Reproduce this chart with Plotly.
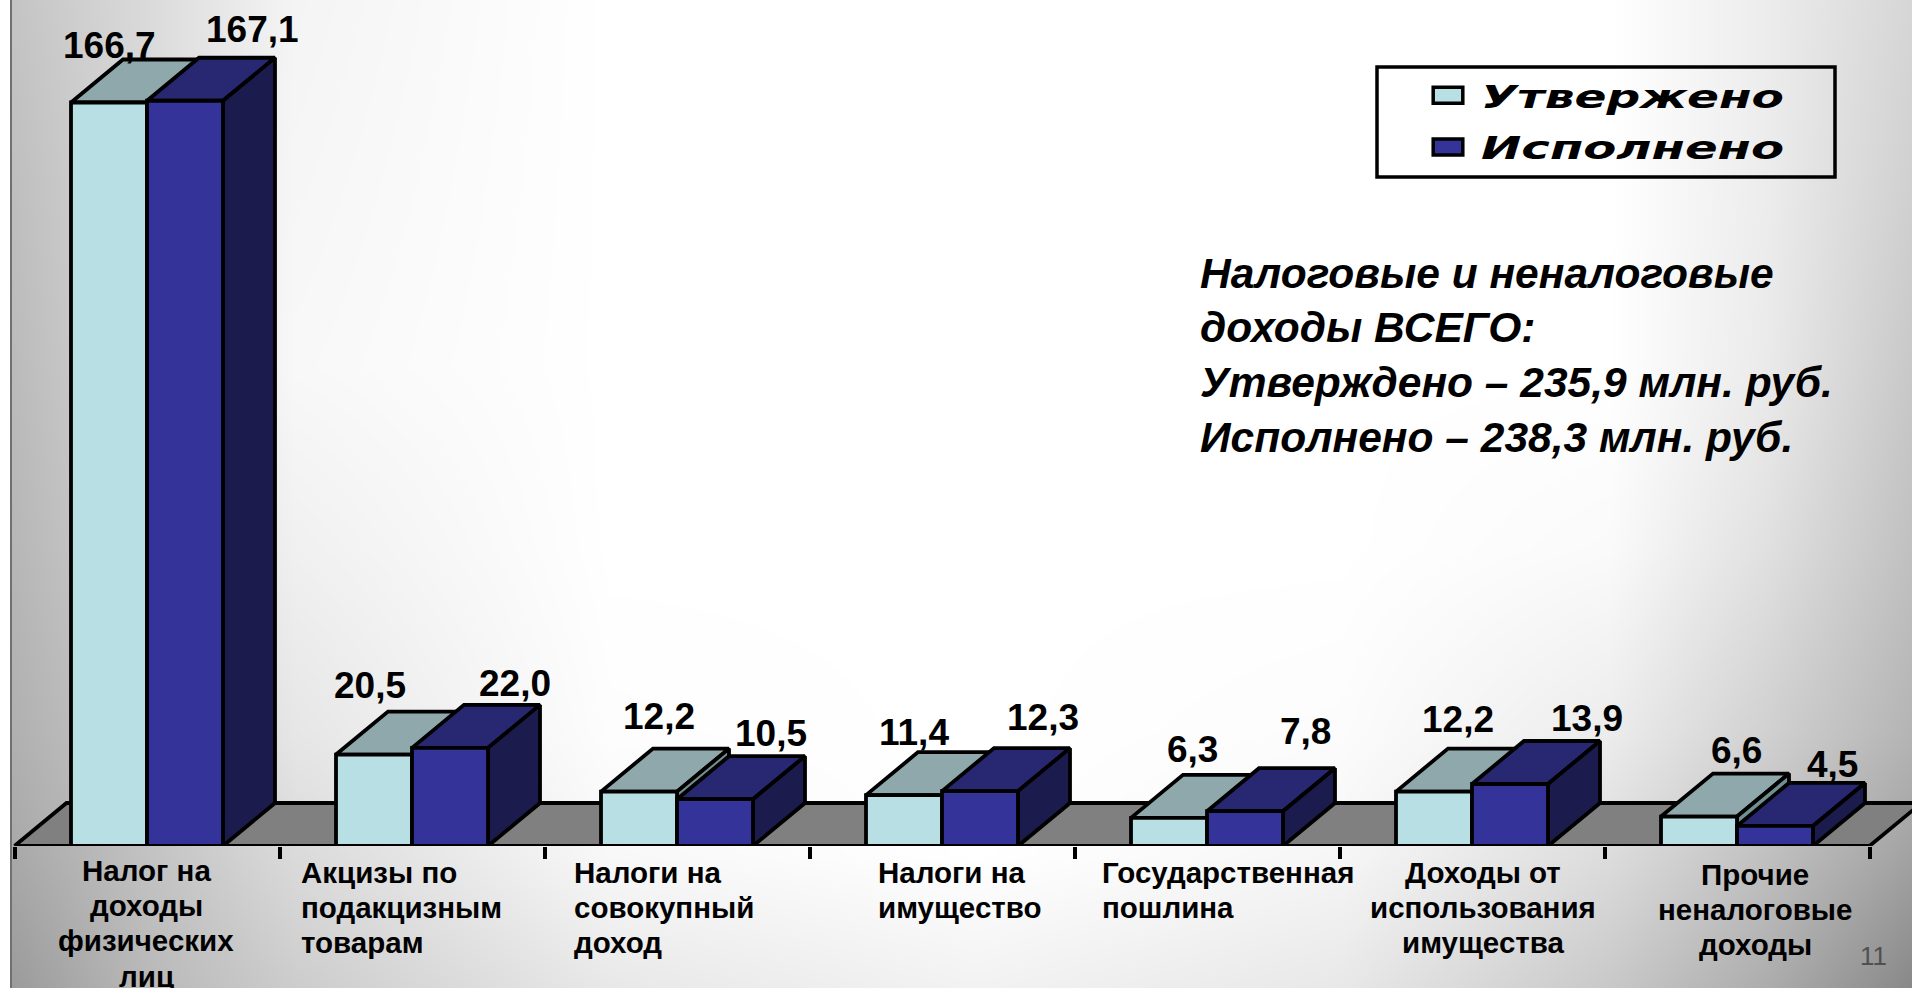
import plotly.graph_objects as go

# ---------- data ----------
categories = ["Налог на<br>доходы<br>физических<br>лиц", "Акцизы по<br>подакцизным<br>товарам",
              "Налоги на<br>совокупный<br>доход", "Налоги на<br>имущество",
              "Государственная<br>пошлина", "Доходы от<br>использования<br>имущества",
              "Прочие<br>неналоговые<br>доходы"]
approved = [166.7, 20.5, 12.2, 11.4, 6.3, 12.2, 6.6]
executed = [167.1, 22.0, 10.5, 12.3, 7.8, 13.9, 4.5]
series_names = ["Утвержено", "Исполнено"]
note_lines = ["Налоговые и неналоговые", "доходы ВСЕГО:",
              "Утверждено – 235,9 млн. руб.", "Исполнено – 238,3 млн. руб."]

# ---------- style / layout ----------
W, H = 1912, 988
base_px, px_per_unit = 846, 4.46
cat_px, first_px = 265, 147
depth_x, depth_y = 52 / cat_px, 43 / px_per_unit
bw = 76 / cat_px
LW = 3.8
LIGHT = ("#B8E0E4", "#8FA8AB", "#6F8F92")
NAVY = ("#333399", "#272772", "#1B1B4E")

label_dx = [[0, -4, 20, 10, 23, 24, 37], [67, 65, 56, 63, 60, 77, 57]]
label_dy = [[14, 26, 32, 20, 25, 29, 23], [28, 21, 23, 31, 37, 23, 18]]
cat_anchor = ["center", "left", "left", "left", "left", "center", "center"]
cat_dx = [-1, -113, -105, -66, -107, 11, 18]
cat_first_line = [870, 872, 872, 872, 872, 872, 874]
cat_pitch = 35.4

bg_x = [0, 146, 293, 610, 976, 1341, 1610, 1768, 1912]
bg_y = [0, 183, 366, 549, 732, 854, 988]
bg_gray = [
    [0xC2, 0xDA, 0xF4, 0xFF, 0xFF, 0xFF, 0xFF, 0xEC, 0xD6],
    [0xBC, 0xD8, 0xF6, 0xFF, 0xFF, 0xFF, 0xFF, 0xEC, 0xD0],
    [0xB8, 0xD6, 0xF8, 0xFF, 0xFF, 0xFF, 0xFF, 0xEA, 0xC8],
    [0xB4, 0xD0, 0xF0, 0xFF, 0xFF, 0xFF, 0xFA, 0xE0, 0xC0],
    [0xAE, 0xC8, 0xE6, 0xFD, 0xFF, 0xFC, 0xEC, 0xD0, 0xB4],
    [0xA6, 0xC2, 0xDA, 0xF8, 0xFF, 0xF6, 0xDC, 0xC0, 0xA2],
    [0x98, 0xB8, 0xCC, 0xE8, 0xF2, 0xE8, 0xC8, 0xAC, 0x88],
]

fig = go.Figure()
fig.add_trace(go.Heatmap(x=bg_x, y=bg_y, z=bg_gray, zmin=0, zmax=255, zsmooth="best",
                         colorscale=[[0, "#000000"], [1, "#FFFFFF"]], showscale=False,
                         hoverinfo="skip", xaxis="x", yaxis="y"))


def poly(xs, ys, fill):
    fig.add_trace(go.Scatter(x=xs, y=ys, mode="lines", fill="toself", fillcolor=fill,
                             line=dict(color="black", width=LW), hoverinfo="skip",
                             showlegend=False, xaxis="x2", yaxis="y2"))


n = len(categories)
poly([-0.5, n - 0.5, n - 0.5 + depth_x, -0.5 + depth_x, -0.5], [0, 0, depth_y, depth_y, 0], "#808080")


def draw_series(values, offset, colors):
    fx, fy, tx, ty, sx, sy = [], [], [], [], [], []
    for i, v in enumerate(values):
        x0, x1 = i + offset, i + offset + bw
        fx += [x0, x1, x1, x0, x0, None]
        fy += [0, 0, v, v, 0, None]
        tx += [x0, x1, x1 + depth_x, x0 + depth_x, x0, None]
        ty += [v, v, v + depth_y, v + depth_y, v, None]
        sx += [x1, x1 + depth_x, x1 + depth_x, x1, x1, None]
        sy += [0, depth_y, v + depth_y, v, 0, None]
    poly(tx, ty, colors[1])
    poly(sx, sy, colors[2])
    poly(fx, fy, colors[0])


draw_series(approved, -bw, LIGHT)
draw_series(executed, 0, NAVY)

# legend-only entries
for name, col in zip(series_names, (LIGHT[0], NAVY[0])):
    fig.add_trace(go.Scatter(x=[None], y=[None], mode="markers", name=name, legendgroup=name,
                             xaxis="x2", yaxis="y2",
                             marker=dict(symbol="square", size=17, color=col,
                                         line=dict(color="black", width=3.5))))

ann = []
for s, vals in enumerate((approved, executed)):
    for i, v in enumerate(vals):
        ann.append(dict(x=i + (-bw / 2 if s == 0 else bw / 2), y=v + depth_y, xref="x2", yref="y2",
                        text=f"{v:.1f}".replace(".", ","), showarrow=False, xanchor="center", yanchor="middle",
                        xshift=label_dx[s][i], yshift=label_dy[s][i],
                        font=dict(family="Liberation Sans", size=37, color="black", weight="bold")))
for i, c in enumerate(categories):
    for k, line in enumerate(c.split("<br>")):
        ann.append(dict(x=i, y=1 - (cat_first_line[i] + k * cat_pitch) / H, xref="x2", yref="paper",
                        text=line, showarrow=False, xanchor=cat_anchor[i], yanchor="middle", xshift=cat_dx[i],
                        font=dict(family="Liberation Sans", size=29.5, color="black", weight="bold")))
for line, ypx in zip(note_lines, (273, 327, 382, 437)):
    ann.append(dict(x=1198 / W, y=1 - ypx / H, xref="paper", yref="paper", text=line, showarrow=False,
                    xanchor="left", yanchor="middle",
                    font=dict(family="Liberation Sans", size=42.5, color="black", weight="bold", style="italic")))
ann.append(dict(x=1873 / W, y=1 - 956 / H, xref="paper", yref="paper", text="11", showarrow=False,
                xanchor="center", yanchor="middle",
                font=dict(family="Liberation Sans", size=26, color="#505050")))

fig.update_layout(
    width=W, height=H,
    margin=dict(l=0, r=0, t=0, b=0),
    paper_bgcolor="white", plot_bgcolor="rgba(0,0,0,0)",
    xaxis=dict(domain=[0, 1], range=[0, W], visible=False, fixedrange=True),
    yaxis=dict(domain=[0, 1], range=[H, 0], visible=False, fixedrange=True),
    xaxis2=dict(domain=[0, 1], anchor="y2", range=[-first_px / cat_px, (W - first_px) / cat_px],
                tickmode="array", tickvals=[i - 0.5 for i in range(n + 1)], ticktext=[""] * (n + 1),
                ticks="outside", ticklen=12, tickwidth=3.5, tickcolor="black",
                showgrid=False, zeroline=False, showline=False),
    yaxis2=dict(domain=[(H - base_px) / H, 1], anchor="x2", range=[0, base_px / px_per_unit],
                visible=False),
    legend=dict(x=1415 / W, y=1 - 68 / H, xanchor="left", yanchor="top",
                bgcolor="rgba(0,0,0,0)", borderwidth=0, itemwidth=56, tracegroupgap=7,
                font=dict(family="DejaVu Sans", size=32, color="black", weight="bold", style="italic")),
    shapes=[dict(type="rect", xref="paper", yref="paper", x0=0, x1=10.5 / W, y0=0, y1=1,
                 fillcolor="white", line=dict(width=0)),
            dict(type="line", xref="paper", yref="paper", x0=11 / W, x1=11 / W, y0=0, y1=1,
                 line=dict(color="#707070", width=2)),
            dict(type="rect", xref="paper", yref="paper", x0=1377 / W, x1=1835 / W,
                 y0=1 - 177 / H, y1=1 - 67 / H, line=dict(color="black", width=3.5))],
    annotations=ann,
)

post = """
document.documentElement.style.margin = '0';
document.body.style.margin = '0';
document.body.style.overflow = 'hidden';
document.querySelectorAll('.legend .scrollbox').forEach(function (g) {
  g.removeAttribute('clip-path');
  g.style.clipPath = 'none';
});
document.querySelectorAll('.legendtext').forEach(function (t) {
  t.setAttribute('textLength', '303');
  t.setAttribute('lengthAdjust', 'spacingAndGlyphs');
});
document.querySelectorAll('.legendpoints path').forEach(function (p) {
  p.setAttribute('vector-effect', 'non-scaling-stroke');
  p.setAttribute('transform', (p.getAttribute('transform') || '') + ' scale(1.85,1)');
});
"""
fig.write_html("out.html", config={"displayModeBar": False}, post_script=post)
